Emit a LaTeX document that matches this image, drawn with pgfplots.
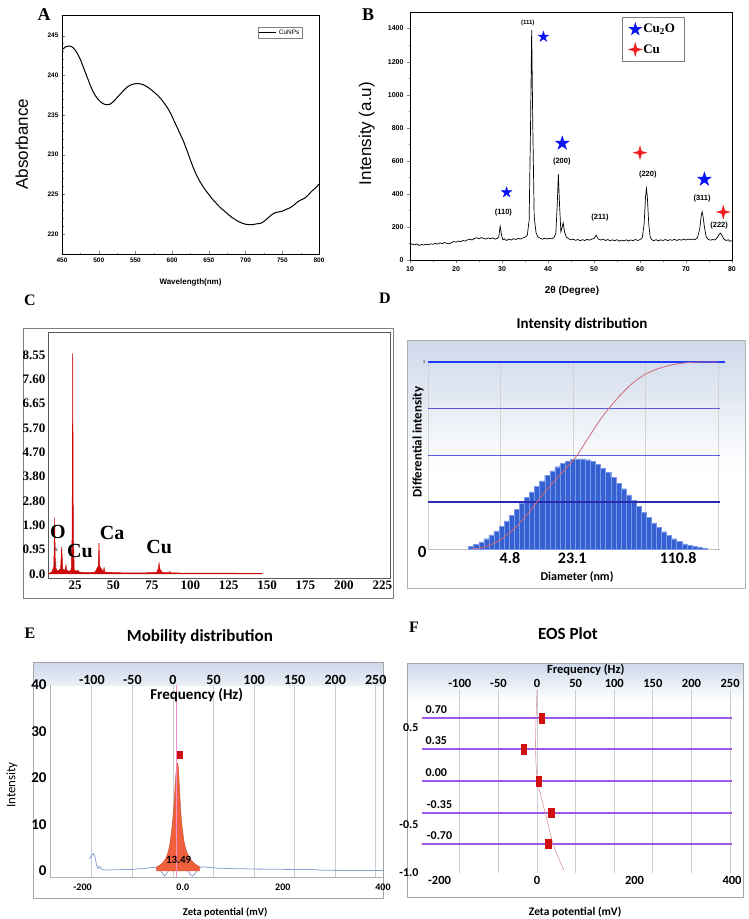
\documentclass[border=0pt]{standalone}
\usepackage{fontspec}
\setmainfont{Liberation Sans}
\newfontfamily\tnr{Liberation Serif}
\newfontfamily\calfont{Carlito}
\usepackage{pgfplots}
\pgfplotsset{compat=1.18}
\newcommand\fs[1]{\fontsize{#1}{#1}\selectfont}

\definecolor{edxred}{HTML}{CC0A0A}
\definecolor{starblue}{HTML}{0A14F0}
\definecolor{starred}{HTML}{F01E1E}
\definecolor{dbar}{HTML}{3560D2}
\definecolor{dbarline}{HTML}{7C98E8}
\definecolor{dtop}{HTML}{1E3CFF}
\definecolor{dmid}{HTML}{5A5AD8}
\definecolor{ddark}{HTML}{2B2BB0}
\definecolor{dcum}{HTML}{D06878}
\definecolor{hdr}{HTML}{CDD8EA}
\definecolor{epeak}{HTML}{F0603C}
\definecolor{eline}{HTML}{8AA0D0}
\definecolor{fpurple}{HTML}{A05AE6}
\definecolor{fmark}{HTML}{D01010}
\definecolor{gridg}{HTML}{C8CCD4}

% filled five-point star
\pgfdeclareplotmark{fstar}{%
  \pgfpathmoveto{\pgfpoint{0pt}{\pgfplotmarksize}}%
  \pgfpathlineto{\pgfpoint{-0.2245\pgfplotmarksize}{0.309\pgfplotmarksize}}%
  \pgfpathlineto{\pgfpoint{-0.951\pgfplotmarksize}{0.309\pgfplotmarksize}}%
  \pgfpathlineto{\pgfpoint{-0.363\pgfplotmarksize}{-0.118\pgfplotmarksize}}%
  \pgfpathlineto{\pgfpoint{-0.588\pgfplotmarksize}{-0.809\pgfplotmarksize}}%
  \pgfpathlineto{\pgfpoint{0pt}{-0.382\pgfplotmarksize}}%
  \pgfpathlineto{\pgfpoint{0.588\pgfplotmarksize}{-0.809\pgfplotmarksize}}%
  \pgfpathlineto{\pgfpoint{0.363\pgfplotmarksize}{-0.118\pgfplotmarksize}}%
  \pgfpathlineto{\pgfpoint{0.951\pgfplotmarksize}{0.309\pgfplotmarksize}}%
  \pgfpathlineto{\pgfpoint{0.2245\pgfplotmarksize}{0.309\pgfplotmarksize}}%
  \pgfpathclose\pgfusepathqfillstroke}
% filled four-point star
\pgfdeclareplotmark{fstarfour}{%
  \pgfpathmoveto{\pgfpoint{0pt}{\pgfplotmarksize}}%
  \pgfpathlineto{\pgfpoint{-0.22\pgfplotmarksize}{0.22\pgfplotmarksize}}%
  \pgfpathlineto{\pgfpoint{-\pgfplotmarksize}{0pt}}%
  \pgfpathlineto{\pgfpoint{-0.22\pgfplotmarksize}{-0.22\pgfplotmarksize}}%
  \pgfpathlineto{\pgfpoint{0pt}{-\pgfplotmarksize}}%
  \pgfpathlineto{\pgfpoint{0.22\pgfplotmarksize}{-0.22\pgfplotmarksize}}%
  \pgfpathlineto{\pgfpoint{\pgfplotmarksize}{0pt}}%
  \pgfpathlineto{\pgfpoint{0.22\pgfplotmarksize}{0.22\pgfplotmarksize}}%
  \pgfpathclose\pgfusepathqfillstroke}

\pgfplotsset{every axis/.append style={scale only axis, anchor=north west,
  /pgf/number format/assume math mode=true, /pgf/number format/1000 sep={}}}

\begin{document}
\begin{tikzpicture}
\path[use as bounding box] (0,0) rectangle (749pt,-919pt);

% panel letters
\node[font=\tnr\bfseries\fs{18}] at (44pt,-15pt) {A};
\node[font=\tnr\bfseries\fs{18}] at (368pt,-15pt) {B};
\node[font=\tnr\bfseries\fs{16}] at (30pt,-300pt) {C};
\node[font=\tnr\bfseries\fs{16}] at (385pt,-298pt) {D};
\node[font=\tnr\bfseries\fs{16}] at (30pt,-633pt) {E};
\node[font=\tnr\bfseries\fs{16}] at (414pt,-627pt) {F};

% ---------- A: UV-vis ----------
\begin{axis}[at={(62pt,-15pt)}, width=257pt, height=239pt,
  xmin=450, xmax=800, ymin=217.5, ymax=247.6,
  xtick={450,500,...,800}, ytick={220,225,...,245},
  minor x tick num=1, minor y tick num=4,
  tick align=inside, major tick length=3pt, minor tick length=1.5pt,
  xtick pos=bottom, ytick pos=left,
  axis line style={line width=0.8pt},
  tick label style={font=\bfseries\fs{6.5}},
  xlabel={Wavelength(nm)},
  xlabel style={font=\bfseries\fs{8}, at={(axis description cs:0.5,-0.121)}, anchor=center},
  ylabel={Absorbance},
  ylabel style={font=\fs{17}, at={(axis description cs:-0.156,0.46)}, anchor=center},
  legend style={at={(0.763,0.95)}, anchor=north west, font=\fs{6.5},
    inner sep=0.5pt, draw=gray},
  legend cell align=left]
\addplot[black, line width=1pt, smooth] coordinates {
 (450,243.2) (455,243.6) (460,243.7) (465,243.5) (470,242.9) (475,242.0)
 (480,240.8) (485,239.6) (490,238.4) (495,237.5) (500,236.9) (505,236.5)
 (510,236.3) (515,236.35) (520,236.7) (525,237.2) (530,237.7) (535,238.2)
 (540,238.6) (545,238.85) (550,238.95) (555,238.95) (560,238.85) (565,238.6)
 (570,238.3) (575,237.9) (580,237.5) (585,237.0) (590,236.4) (595,235.7)
 (600,234.8) (605,233.8) (610,232.8) (615,231.8) (620,230.6) (625,229.3)
 (630,228.1) (635,227.1) (640,226.3) (645,225.6) (650,225.0) (655,224.4)
 (660,223.9) (665,223.4) (670,223.0) (675,222.6) (680,222.2) (685,221.9)
 (690,221.6) (695,221.4) (700,221.25) (705,221.2) (710,221.2) (715,221.3)
 (720,221.35) (725,221.6) (730,222.0) (735,222.4) (740,222.7) (745,222.8)
 (750,222.9) (755,223.1) (760,223.3) (765,223.6) (770,224.0) (775,224.3)
 (780,224.5) (785,224.9) (790,225.4) (795,225.8) (800,226.3)};
\addlegendentry{CuNPs}
\end{axis}

% ---------- B: XRD ----------
\begin{axis}[at={(410pt,-12pt)}, width=322pt, height=248pt,
  xmin=10, xmax=80, ymin=0, ymax=1500,
  xtick={10,20,...,80}, ytick={0,200,...,1400},
  minor x tick num=1, minor y tick num=1,
  tick align=outside, major tick length=3pt, minor tick length=1.5pt,
  xtick pos=bottom, ytick pos=left,
  axis line style={line width=0.8pt},
  tick label style={font=\bfseries\fs{7}},
  xlabel={2θ (Degree)},
  xlabel style={font=\bfseries\fs{10}, at={(axis description cs:0.503,-0.125)}, anchor=center},
  ylabel={Intensity (a.u)},
  ylabel style={font=\fs{17}, at={(axis description cs:-0.134,0.51)}, anchor=center},
  legend style={at={(0.658,0.98)}, anchor=north west, font=\tnr\bfseries\fs{13},
    draw=gray, line width=0.8pt, inner xsep=7pt, inner ysep=5pt, row sep=6pt},
  legend cell align=left, clip=false]
\addplot[black, line width=0.7pt, forget plot] coordinates {
 (10.0,100) (10.5,95) (11.0,92) (11.5,97) (12.0,88) (12.5,94) (13.0,90) (13.5,96)
 (14.0,92) (14.5,98) (15.0,95) (15.5,100) (16.0,96) (16.5,104) (17.0,99) (17.5,106)
 (18.0,101) (18.5,98) (19.0,104) (19.5,112) (20.0,108) (20.5,115) (21.0,111)
 (21.5,118) (22.0,114) (22.5,122) (23.0,126) (23.5,121) (24.0,130) (24.5,135)
 (25.0,128) (25.5,136) (26.0,130) (26.5,127) (27.0,133) (27.5,129) (28.0,134)
 (28.5,126) (29.0,131) (29.3,140) (29.6,205) (29.9,150) (30.2,122) (30.5,128)
 (31.0,118) (31.5,126) (32.0,121) (32.5,129) (33.0,124) (33.5,131) (34.0,127)
 (34.5,133) (35.0,138) (35.5,150) (35.9,240) (36.2,800) (36.45,1390) (36.7,800)
 (37.0,260) (37.4,165) (37.8,140) (38.3,132) (38.8,126) (39.3,132) (39.8,127)
 (40.3,131) (40.8,128) (41.3,135) (41.7,160) (42.0,330) (42.25,520) (42.5,340)
 (42.8,170) (43.1,200) (43.3,225) (43.6,170) (44.0,138) (44.5,128) (45.0,122)
 (45.5,126) (46.0,119) (46.5,124) (47.0,117) (47.5,123) (48.0,118) (48.5,125)
 (49.0,120) (49.5,126) (50.0,130) (50.5,150) (50.9,128) (51.4,121) (52.0,126)
 (52.5,118) (53.0,124) (53.5,116) (54.0,122) (54.5,117) (55.0,123) (55.5,114)
 (56.0,120) (56.5,116) (57.0,122) (57.5,115) (58.0,121) (58.5,117) (59.0,124)
 (59.5,118) (60.0,123) (60.5,135) (60.9,220) (61.2,380) (61.4,432) (61.6,380)
 (61.9,220) (62.2,140) (62.6,122) (63.0,117) (63.5,123) (64.0,116) (64.5,122)
 (65.0,118) (65.5,124) (66.0,117) (66.5,123) (67.0,119) (67.5,125) (68.0,118)
 (68.5,124) (69.0,120) (69.5,126) (70.0,121) (70.5,127) (71.0,122) (71.5,126)
 (72.0,124) (72.5,135) (73.0,190) (73.3,265) (73.5,292) (73.7,265) (74.0,200)
 (74.4,140) (74.8,125) (75.3,120) (75.8,124) (76.3,121) (76.8,135) (77.2,155)
 (77.5,162) (77.8,150) (78.2,128) (78.7,118) (79.2,122) (79.6,113) (80.0,117)};
\addplot[only marks, mark=fstar, mark size=5.5pt, starblue, forget plot]
  coordinates {(31.0,409) (39.0,1350)};
\addplot[only marks, mark=fstar, mark size=7.3pt, starblue, forget plot]
  coordinates {(43.1,706) (74.0,488)};
\addplot[only marks, mark=fstarfour, mark size=6.6pt, starred, forget plot]
  coordinates {(60.0,649) (78.1,290)};
\addlegendimage{only marks, mark=fstar, mark size=6pt, starblue}
\addlegendentry{Cu\textsubscript{2}O}
\addlegendimage{only marks, mark=fstarfour, mark size=6pt, starred}
\addlegendentry{Cu}
\begin{scope}[every node/.style={font=\bfseries\fs{7.5}}]
\node[font=\bfseries\fs{6}] at (axis cs:35.6,1434) {(111)};
\node at (axis cs:30.3,285) {(110)};
\node at (axis cs:43.0,593) {(200)};
\node at (axis cs:51.3,254) {(211)};
\node at (axis cs:61.7,514) {(220)};
\node at (axis cs:73.5,369) {(311)};
\node at (axis cs:77.2,206) {(222)};
\end{scope}
\end{axis}

% ---------- C: EDX ----------
\draw[gray, line width=1pt] (23pt,-328pt) rectangle (393pt,-598pt);
\begin{axis}[at={(48pt,-332pt)}, width=342pt, height=246pt,
  xmin=7.4, xmax=230, ymin=-0.16, ymax=9.45,
  xtick={25,50,...,225},
  ytick={0,0.95,1.9,2.85,3.8,4.75,5.7,6.65,7.6,8.55},
  yticklabels={0.0,0.95,1.90,2.80,3.80,4.70,5.70,6.65,7.60,8.55},
  major tick length=0pt,
  axis line style={gray!70!black, line width=0.8pt},
  tick label style={font=\tnr\bfseries\fs{13}},
  xticklabel style={yshift=1pt},
  yticklabel style={xshift=1pt}]
\addplot[edxred, fill=edxred, line width=0.5pt] coordinates {
 (7.4,0) (10,0.08) (11.2,0.3) (11.7,2.2) (12.2,0.3) (13,0.15) (14,0.12)
 (15.6,0.2) (16.3,1.07) (17,0.2) (18,0.12) (18.7,0.2) (19.1,0.35) (19.5,0.15)
 (21,0.1) (22.5,0.15) (23.1,1.5) (23.5,8.62) (23.9,1.5) (24.5,0.15) (26,0.1)
 (26.7,0.15) (27.4,0.08) (30,0.06) (35,0.05) (38,0.07) (40.1,0.3) (40.6,1.21)
 (41.1,0.3) (43.4,0.08) (43.9,0.25) (44.4,0.07) (50,0.05) (60,0.04) (70,0.04)
 (78,0.06) (79.2,0.2) (79.7,0.43) (80.3,0.18) (82,0.05) (86.4,0.05) (86.8,0.1)
 (87.2,0.04) (100,0.03) (120,0.03) (147,0.02)} \closedcycle;
\begin{scope}[every node/.style={font=\tnr\bfseries\fs{20}}]
\node at (axis cs:13.9,1.64) {O};
\node at (axis cs:28.2,0.90) {Cu};
\node at (axis cs:49.1,1.60) {Ca};
\node at (axis cs:79.8,1.05) {Cu};
\end{scope}
\node[font=\tnr\fs{5}] at (axis cs:12.6,0.95) {N};
\node[font=\tnr\fs{5}] at (axis cs:12.6,0.35) {C};
\end{axis}

% ---------- D: intensity distribution ----------
\shade[top color=hdr, bottom color=white] (407pt,-340pt) rectangle (745pt,-470pt);
\draw[gray!60, line width=0.8pt] (407pt,-340pt) rectangle (745pt,-588pt);
\begin{axis}[at={(428pt,-362pt)}, width=290pt, height=187pt,
  xmin=0, xmax=4, ymin=0, ymax=4,
  axis line style={draw=none}, major tick length=0pt,
  xtick={0,1,2,3,4}, xticklabels={,,,,},
  ytick=\empty,
  xmajorgrids, grid style={gray!35, line width=0.8pt},
  extra x ticks={1.13,1.99,3.45},
  extra x tick labels={4.8,23.1,110.8},
  extra x tick style={grid=none},
  xticklabel style={font=\calfont\bfseries\fs{16}, anchor=center, yshift=-9pt},
  title={Intensity distribution},
  title style={font=\calfont\bfseries\fs{15}, at={(axis description cs:0.531,1.171)}, anchor=center},
  xlabel={Diameter (nm)},
  xlabel style={font=\calfont\bfseries\fs{12}, at={(axis description cs:0.514,-0.150)}, anchor=center},
  ylabel={Differential intensity},
  ylabel style={font=\calfont\bfseries\fs{13}, at={(axis description cs:-0.034,0.572)}, anchor=center},
  clip=false]
\addplot[gray!50, line width=0.8pt] coordinates {(0,0) (4.03,0)};
\addplot[ybar interval, fill=dbar, draw=dbarline, line width=0.4pt] coordinates {
 (0.56,0.05) (0.63,0.10) (0.70,0.15) (0.77,0.22) (0.84,0.30) (0.91,0.39)
 (0.98,0.49) (1.05,0.60) (1.12,0.72) (1.19,0.85) (1.26,0.98) (1.33,1.10)
 (1.40,1.22) (1.47,1.34) (1.54,1.46) (1.61,1.57) (1.68,1.67) (1.75,1.76)
 (1.82,1.83) (1.89,1.88) (1.96,1.92) (2.03,1.93) (2.10,1.93) (2.17,1.91)
 (2.24,1.87) (2.31,1.81) (2.38,1.73) (2.45,1.64) (2.52,1.53) (2.59,1.41)
 (2.66,1.29) (2.73,1.16) (2.80,1.04) (2.87,0.91) (2.94,0.79) (3.01,0.67)
 (3.08,0.56) (3.15,0.46) (3.22,0.37) (3.29,0.29) (3.36,0.22) (3.43,0.16)
 (3.50,0.11) (3.57,0.08) (3.64,0.05) (3.71,0.03) (3.78,0.02) (3.85,0)};
\addplot[ddark, line width=1.6pt] coordinates {(0,1) (4.03,1)};
\addplot[dmid, line width=1pt] coordinates {(0,2) (4.03,2)};
\addplot[dmid, line width=1pt] coordinates {(0,3) (4.03,3)};
\addplot[dtop, line width=1.6pt] coordinates {(0,4) (4.1,4)};
\addplot[dcum, line width=0.8pt, smooth] coordinates {
 (0.6,0) (0.8,0.05) (1.0,0.2) (1.2,0.45) (1.4,0.8) (1.6,1.2) (1.8,1.55)
 (2.03,1.95) (2.2,2.35) (2.4,2.82) (2.6,3.2) (2.8,3.52) (3.0,3.74) (3.2,3.87)
 (3.4,3.95) (3.6,3.99) (3.8,4.0) (4.0,4.0)};
\node[font=\calfont\bfseries\fs{17}] at (axis cs:-0.08,-0.06) {0};
\node[font=\calfont\fs{4}] at (axis cs:-0.05,4) {5};
\end{axis}

% ---------- E: mobility distribution ----------
\shade[top color=hdr, bottom color=hdr!40] (33pt,-662pt) rectangle (383pt,-685pt);
\draw[gray!70, line width=1pt] (33pt,-662pt) rectangle (383pt,-898pt);
\begin{axis}[at={(50pt,-685pt)}, width=333pt, height=192pt,
  xmin=-151.6, xmax=258.9, ymin=0, ymax=1,
  axis x line*=top, hide y axis,
  x axis line style={draw=none}, major tick length=0pt,
  xtick={-100,-50,...,250},
  xmajorgrids, grid style={gridg, line width=0.8pt},
  xticklabel style={font=\calfont\bfseries\fs{14}, yshift=-3pt}]
\end{axis}
\begin{axis}[at={(50pt,-685pt)}, width=333pt, height=192pt,
  xmin=-265, xmax=400, ymin=-1.3, ymax=40,
  xtick={-200,0,200,400}, xticklabels={-200,0.0,200,400},
  ytick={0,10,...,40},
  axis x line*=bottom, axis y line*=left,
  axis line style={gray!60, line width=0.8pt}, major tick length=0pt,
  xticklabel style={font=\calfont\bfseries\fs{10}, anchor=center, yshift=-10pt},
  yticklabel style={font=\calfont\bfseries\fs{15}},
  title={Mobility distribution},
  title style={font=\calfont\bfseries\fs{17}, at={(axis description cs:0.45,1.219)}, anchor=center},
  xlabel={Zeta potential (mV)},
  xlabel style={font=\calfont\bfseries\fs{10.5}, at={(axis description cs:0.526,-0.182)}, anchor=center},
  ylabel={Intensity},
  ylabel style={font=\calfont\fs{13}, at={(axis description cs:-0.114,0.479)}, anchor=center}]
\addplot[eline, line width=0.8pt] coordinates {
 (-186,2.6) (-182,3.4) (-178,3.7) (-175,3.0) (-172,1.2) (-169,0.5) (-166,1.0)
 (-162,0.4) (-155,0.2) (-140,0.25) (-120,0.3) (-100,0.35) (-80,0.5) (-65,0.7)
 (-55,0.8) (-48,0.7) (-42,-0.3) (-36,-1.1) (-31,-0.4) (-26,0.5) (-10,0.5)
 (8,0.5) (14,-0.6) (19,-1.1) (24,-0.7) (30,0.4) (38,0.9) (50,0.8) (70,0.6)
 (100,0.5) (150,0.4) (200,0.35) (260,0.3) (280,0.15) (340,0.1) (400,0.1)};
\addplot[epeak!80!black, fill=epeak, line width=0.4pt, smooth] coordinates {
 (-52,0.9) (-45,1.3) (-38,2.0) (-32,3.2) (-27,5.0) (-23,8.0) (-20,11) (-17,15)
 (-15,18.5) (-13,21.5) (-11,23.2) (-9,22.5) (-7,19) (-5,15) (-3,11.5) (0,8.5)
 (3,6.2) (7,4.5) (12,3.2) (18,2.2) (26,1.4) (34,0.9)} \closedcycle;
\addplot[magenta!45, line width=1pt] coordinates {(-12,-1.3) (-12,40)};
\addplot[only marks, mark=square*, mark size=2.6pt, fmark,
  mark options={yscale=1.5}] coordinates {(-6,25)};
\node[font=\calfont\bfseries\fs{11}] at (axis cs:-8,2.3) {13.49};
\node[font=\calfont\bfseries\fs{15}] at (axis cs:28,37.9) {Frequency (Hz)};
\end{axis}

% ---------- F: EOS plot ----------
\shade[top color=hdr, bottom color=white] (407pt,-663pt) rectangle (743pt,-700pt);
\draw[gray!70, line width=1pt] (407pt,-663pt) rectangle (743pt,-897pt);
\begin{axis}[at={(422pt,-690pt)}, width=310pt, height=183pt,
  xmin=-149, xmax=252.5, ymin=0, ymax=1,
  axis x line*=top, hide y axis,
  x axis line style={draw=none}, major tick length=0pt,
  xtick={-150,-100,...,250},
  xmajorgrids, grid style={gridg, line width=0.8pt},
  xticklabel style={font=\calfont\bfseries\fs{12.5}, yshift=-1pt}]
\end{axis}
\begin{axis}[at={(422pt,-690pt)}, width=310pt, height=183pt,
  xmin=-236, xmax=400, ymin=-1, ymax=0.89,
  xtick={-200,0,200,400},
  ytick={-1,-0.5,0.5}, yticklabels={-1.0,-0.5,0.5},
  axis line style={draw=none}, major tick length=0pt,
  xticklabel style={font=\calfont\bfseries\fs{12.5}, anchor=center, yshift=-7pt},
  yticklabel style={font=\calfont\bfseries\fs{12}},
  title={EOS Plot},
  title style={font=\calfont\bfseries\fs{17}, at={(axis description cs:0.471,1.273)}, anchor=center},
  xlabel={Zeta potential (mV)},
  xlabel style={font=\calfont\bfseries\fs{11.5}, at={(axis description cs:0.494,-0.213)}, anchor=center},
  clip=false]
\addplot[fpurple, line width=1.3pt] coordinates {(-236,0.60) (400,0.60)};
\addplot[fpurple, line width=1.3pt] coordinates {(-236,0.28) (400,0.28)};
\addplot[fpurple, line width=1.3pt] coordinates {(-236,-0.05) (400,-0.05)};
\addplot[fpurple, line width=1.3pt] coordinates {(-236,-0.38) (400,-0.38)};
\addplot[fpurple, line width=1.3pt] coordinates {(-236,-0.70) (400,-0.70)};
\addplot[dcum!70, line width=0.6pt, smooth] coordinates {
 (0,0.89) (-2,0.6) (-3,0.28) (1,-0.05) (17,-0.38) (33,-0.70) (55,-0.97)};
\addplot[only marks, mark=square*, mark size=2.6pt, fmark,
  mark options={yscale=1.8}] coordinates {
 (10,0.60) (-27,0.28) (4,-0.05) (29,-0.38) (23,-0.70)};
\begin{scope}[every node/.style={font=\calfont\bfseries\fs{12}, anchor=west}]
\node at (axis cs:-236,0.69) {0.70};
\node at (axis cs:-236,0.37) {0.35};
\node at (axis cs:-236,0.04) {0.00};
\node at (axis cs:-233,-0.29) {-0.35};
\node at (axis cs:-233,-0.61) {-0.70};
\end{scope}
\node[font=\calfont\bfseries\fs{12.5}] at (axis cs:100,1.097) {Frequency (Hz)};
\end{axis}
\end{tikzpicture}
\end{document}
